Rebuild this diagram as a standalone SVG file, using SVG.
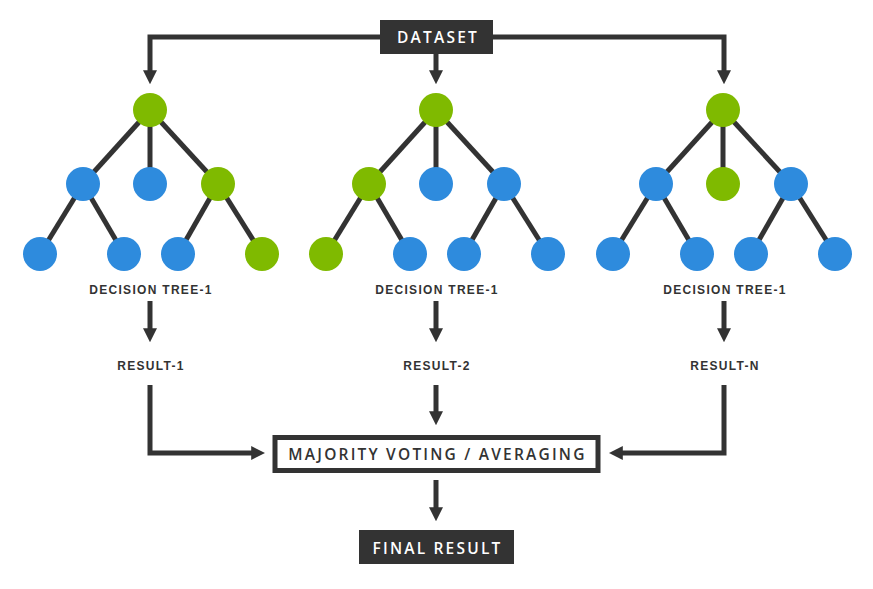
<svg xmlns="http://www.w3.org/2000/svg" width="873" height="589" viewBox="0 0 873 589">
<defs>
<marker id="ah" viewBox="0 0 10 10" refX="2" refY="5" markerWidth="14" markerHeight="14" markerUnits="userSpaceOnUse" orient="auto">
<path d="M0,0 L10,5 L0,10 z" fill="#333"/>
</marker>
<g id="tree">
<g stroke="#333" stroke-width="5" fill="none">
<line x1="0" y1="0" x2="-67" y2="74"/>
<line x1="0" y1="0" x2="0" y2="74"/>
<line x1="0" y1="0" x2="68" y2="74"/>
<line x1="-67" y1="74" x2="-110" y2="144"/>
<line x1="-67" y1="74" x2="-26" y2="144"/>
<line x1="68" y1="74" x2="28" y2="144"/>
<line x1="68" y1="74" x2="112" y2="144"/>
</g>
</g>
</defs>
<style>
.g{fill:#7fba00}
.b{fill:#2e8bdd}
.lbl{font-family:"Liberation Sans",Arial,sans-serif;font-weight:bold;font-size:12px;letter-spacing:1.3px;fill:#333;text-anchor:middle}
.box{font-family:"Open Sans","Liberation Sans",Arial,sans-serif;font-weight:600;font-size:15.5px;letter-spacing:2.2px;text-anchor:middle}
.conn{stroke:#333;stroke-width:5;fill:none}
</style>
<rect width="873" height="589" fill="#fff"/>

<g id="connectors">
<polyline class="conn" points="380,37 150,37 150,73" marker-end="url(#ah)"/>
<polyline class="conn" points="493,37 724,37 724,73" marker-end="url(#ah)"/>
<line class="conn" x1="436" y1="54" x2="436" y2="73" marker-end="url(#ah)"/>
<line class="conn" x1="150" y1="301" x2="150" y2="331" marker-end="url(#ah)"/>
<line class="conn" x1="436" y1="301" x2="436" y2="331" marker-end="url(#ah)"/>
<line class="conn" x1="724" y1="301" x2="724" y2="331" marker-end="url(#ah)"/>
<polyline class="conn" points="150,385 150,453 254,453" marker-end="url(#ah)"/>
<polyline class="conn" points="724,385 724,453 620,453" marker-end="url(#ah)"/>
<line class="conn" x1="436" y1="385" x2="436" y2="414" marker-end="url(#ah)"/>
<line class="conn" x1="436" y1="480" x2="436" y2="510" marker-end="url(#ah)"/>
</g>

<g id="dataset">
<rect x="380" y="20" width="113" height="34" fill="#333"/>
<text class="box" x="438" y="43" fill="#fff" font-size="16" letter-spacing="2.8">DATASET</text>
</g>

<g id="tree1" transform="translate(150,110)">
<use href="#tree"/>
<circle class="g" cx="0" cy="0" r="17"/>
<circle class="b" cx="-67" cy="74" r="17"/>
<circle class="b" cx="0" cy="74" r="17"/>
<circle class="g" cx="68" cy="74" r="17"/>
<circle class="b" cx="-110" cy="144" r="17"/>
<circle class="b" cx="-26" cy="144" r="17"/>
<circle class="b" cx="28" cy="144" r="17"/>
<circle class="g" cx="112" cy="144" r="17"/>
</g>
<g id="tree2" transform="translate(436,110)">
<use href="#tree"/>
<circle class="g" cx="0" cy="0" r="17"/>
<circle class="g" cx="-67" cy="74" r="17"/>
<circle class="b" cx="0" cy="74" r="17"/>
<circle class="b" cx="68" cy="74" r="17"/>
<circle class="g" cx="-110" cy="144" r="17"/>
<circle class="b" cx="-26" cy="144" r="17"/>
<circle class="b" cx="28" cy="144" r="17"/>
<circle class="b" cx="112" cy="144" r="17"/>
</g>
<g id="tree3" transform="translate(723,110)">
<use href="#tree"/>
<circle class="g" cx="0" cy="0" r="17"/>
<circle class="b" cx="-67" cy="74" r="17"/>
<circle class="g" cx="0" cy="74" r="17"/>
<circle class="b" cx="68" cy="74" r="17"/>
<circle class="b" cx="-110" cy="144" r="17"/>
<circle class="b" cx="-26" cy="144" r="17"/>
<circle class="b" cx="28" cy="144" r="17"/>
<circle class="b" cx="112" cy="144" r="17"/>
</g>

<g id="labels">
<text class="lbl" x="151" y="294">DECISION TREE-1</text>
<text class="lbl" x="437" y="294">DECISION TREE-1</text>
<text class="lbl" x="725" y="294">DECISION TREE-1</text>
<text class="lbl" x="151" y="370">RESULT-1</text>
<text class="lbl" x="437" y="370">RESULT-2</text>
<text class="lbl" x="725" y="370">RESULT-N</text>
</g>

<g id="majority">
<rect x="275" y="437.5" width="323" height="33" fill="#fff" stroke="#333" stroke-width="5"/>
<text class="box" x="437.5" y="459.5" fill="#333" font-size="16" letter-spacing="2.3">MAJORITY VOTING / AVERAGING</text>
</g>

<g id="final">
<rect x="359" y="530" width="155" height="34" fill="#333"/>
<text class="box" x="437.5" y="554" fill="#fff">FINAL RESULT</text>
</g>
</svg>
